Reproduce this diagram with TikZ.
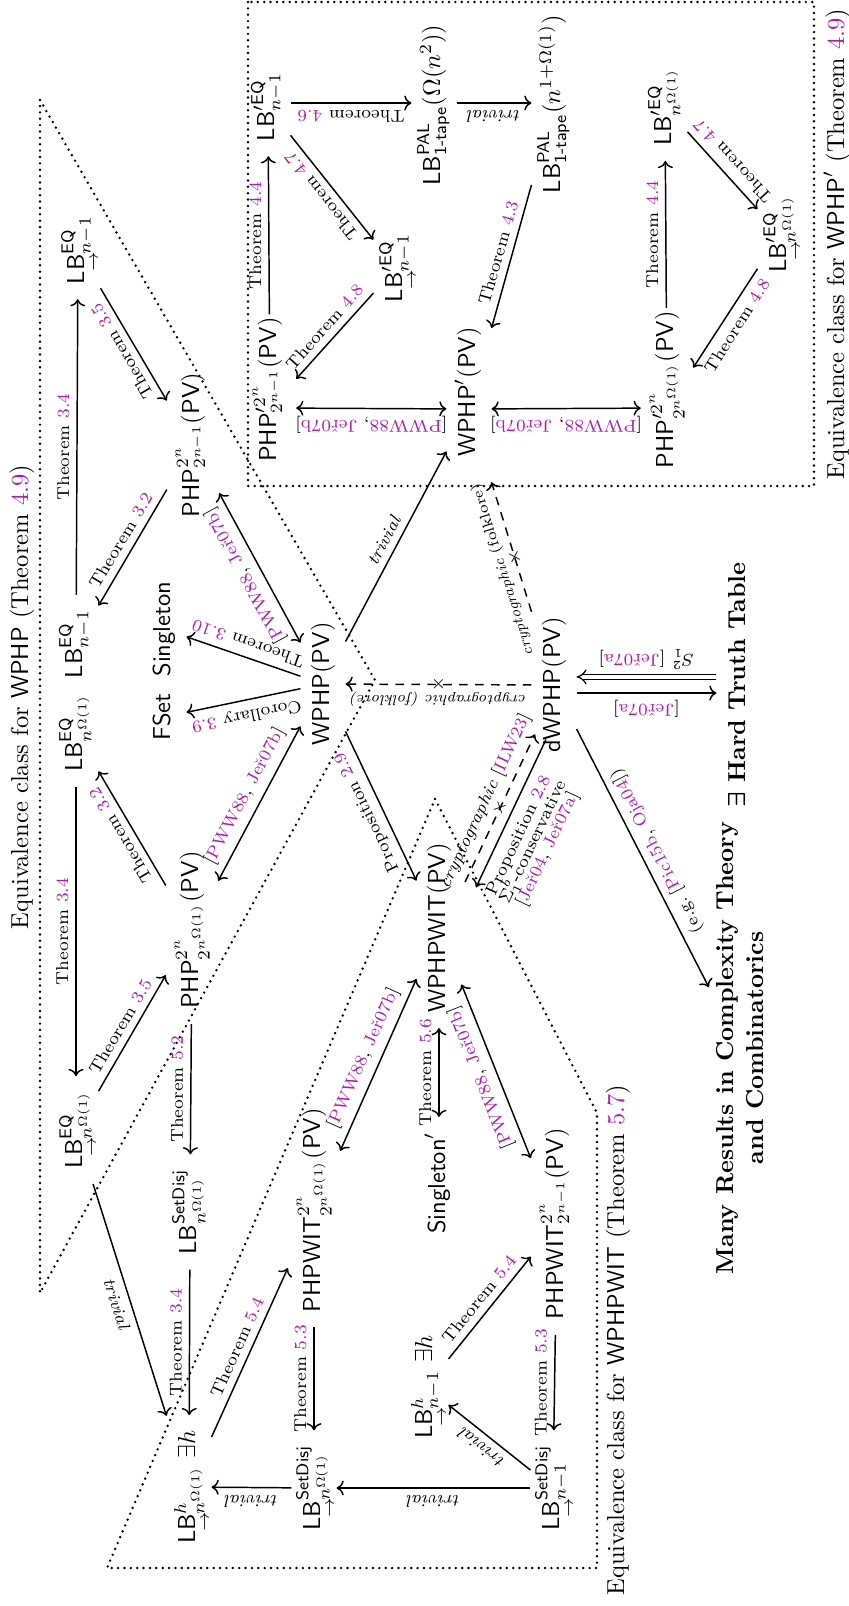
\documentclass[tikz,border=0pt]{standalone}
\usepackage{amsmath}
\usetikzlibrary{arrows.meta}
\definecolor{citec}{RGB}{170,30,170}
\newcommand{\cc}[1]{\textcolor{citec}{#1}}
\newcommand{\uLB}{\mathsf{LB}\smash{\llap{\raisebox{-1.3ex}{$\scriptstyle\rightarrow$}\kern-1pt}}}
\newcommand{\sPV}{(\mathsf{PV})}
\newcommand{\pww}{[\cc{PWW88}, \cc{Je\v{r}07b}]}
\begin{document}
\begin{tikzpicture}[x=0.408pt,y=-0.408pt,
 nd/.style={rotate=90,inner xsep=6pt,inner ysep=3pt,text height=8.5pt,text depth=3.5pt},
 ndp/.style={nd,text height=10pt,text depth=5pt},
 lab/.style={font=\scriptsize,inner sep=2.8pt},
 tlab/.style={font=\fontsize{6}{7}\selectfont,inner sep=2.8pt},
 ar/.style={line width=0.6pt,-{Computer Modern Rightarrow}},
 dar/.style={line width=0.6pt,{Computer Modern Rightarrow}-{Computer Modern Rightarrow}},
 dsh/.style={dash pattern=on 3.5pt off 3pt},
 dot/.style={line width=1.1pt,dash pattern=on 0pt off 2.6pt,line cap=round},
 ttl/.style={rotate=90,anchor=base,inner sep=0pt},
 crs/.style={font=\scriptsize,inner sep=0pt}
]
\useasboundingbox (0,0) rectangle (848,1606);

% regions
\draw[dot] (248,2) rectangle (814,486);
\draw[dot] (40,100) -- (375,680) -- (40,1293) -- cycle;
\draw[dot] (435,799) -- (597,1113) -- (597,1568) -- (107,1568) -- cycle;

% titles
\node[ttl] (t1) at (28,697) {Equivalence class for $\mathsf{WPHP}$ (Theorem \cc{4.9})};
\node[ttl] (t2) at (624,1340) {Equivalence class for $\mathsf{WPHPWIT}$ (Theorem \cc{5.7})};
\node[ttl] (t3) at (844,244) {Equivalence class for $\mathsf{WPHP}'$ (Theorem \cc{4.9})};

% WPHP' box nodes
\node[nd] (n1) at (268,107) {$\mathsf{LB}'^{\mathsf{EQ}}_{n-1}$};
\node[nd] (n2) at (434,105) {$\mathsf{LB}^{\mathsf{PAL}}_{\text{\sffamily 1-tape}}(\Omega(n^2))$};
\node[nd] (n3) at (554,104) {$\mathsf{LB}^{\mathsf{PAL}}_{\text{\sffamily 1-tape}}(n^{1+\Omega(1)})$};
\node[nd] (n4) at (396,268) {$\uLB'^{\mathsf{EQ}}_{n-1}$};
\node[ndp,inner xsep=1pt] (A1) at (270,408) {\hspace*{15pt}$\mathsf{PHP}'^{2^n}_{2^{n-1}}\sPV$};
\node[nd,inner xsep=1pt] (wp) at (469,409) {\hspace*{14pt}$\mathsf{WPHP}'\sPV$};
\node[ndp,inner xsep=1pt] (n5) at (667,408) {\hspace*{15pt}$\mathsf{PHP}'^{2^n}_{2^{n^{\Omega(1)}}}\sPV$};
\node[nd] (n6) at (665,107) {$\mathsf{LB}'^{\mathsf{EQ}}_{n^{\Omega(1)}}$};
\node[nd] (n7) at (780,234) {$\uLB'^{\mathsf{EQ}}_{n^{\Omega(1)}}$};

% WPHP nodes
\node[nd] (w1) at (78,250) {$\uLB^{\mathsf{EQ}}_{n-1}$};
\node[ndp] (w2) at (193,445) {$\mathsf{PHP}^{2^n}_{2^{n-1}}\sPV$};
\node[nd] (w3) at (76,644) {$\mathsf{LB}^{\mathsf{EQ}}_{n-1}$};
\node[nd] (w4) at (76,733) {$\mathsf{LB}^{\mathsf{EQ}}_{n^{\Omega(1)}}$};
\node[nd] (w5) at (164,629) {$\mathsf{Singleton}$};
\node[nd] (w6) at (164,717) {$\mathsf{FSet}$};
\node[nd] (w7) at (323,684) {$\mathsf{WPHP}\sPV$};
\node[ndp] (w8) at (192,930) {$\mathsf{PHP}^{2^n}_{2^{n^{\Omega(1)}}}\sPV$};
\node[nd] (w9) at (76,1130) {$\uLB^{\mathsf{EQ}}_{n^{\Omega(1)}}$};
\node[nd] (w10) at (190,1212) {$\mathsf{LB}^{\mathsf{SetDisj}}_{n^{\Omega(1)}}$};
\node[nd] (w11) at (189,1487) {$\uLB^{h}_{n^{\Omega(1)}}\ \exists h$};

% centre nodes
\node[nd] (d1) at (554,685) {$\mathsf{dWPHP}\sPV$};
\node[nd,font=\bfseries] (h1) at (739,685) {{\boldmath$\exists$} Hard Truth Table};
\node[rotate=90,font=\bfseries,align=center,inner sep=3pt] (m1) at (740,1048) {Many Results in Complexity Theory\\and Combinatorics};

% WPHPWIT nodes
\node[nd] (x1) at (439,928) {$\mathsf{WPHPWIT}\sPV$};
\node[ndp] (x2) at (314,1210) {$\mathsf{PHPWIT}^{2^n}_{2^{n^{\Omega(1)}}}\sPV$};
\node[ndp] (x3) at (557,1224) {$\mathsf{PHPWIT}^{2^n}_{2^{n-1}}\sPV$};
\node[nd] (x4) at (439,1183) {$\mathsf{Singleton}'$};
\node[nd] (x5) at (553,1488) {$\uLB^{\mathsf{SetDisj}}_{n-1}$};
\node[nd] (x6) at (314,1488) {$\uLB^{\mathsf{SetDisj}}_{n^{\Omega(1)}}$};
\node[nd] (x7) at (426,1387) {$\uLB^{h}_{n-1}\ \exists h$};

% WPHP' edges
\draw[ar] (A1) -- node[lab,rotate=90,anchor=south]{Theorem \cc{4.4}} (n1);
\draw[ar] (n1.south |- 0,103) -- node[lab,rotate=180,anchor=south]{Theorem \cc{4.6}} (n2.north |- 0,103);
\draw[ar] (n2.south |- 0,103) -- node[lab,rotate=180,anchor=south]{\textit{trivial}} (n3.north |- 0,103);
\draw[ar] (n3) -- node[lab,rotate=74,anchor=south]{Theorem \cc{4.3}} (wp);
\draw[ar] (n1) -- node[lab,rotate=128.5,anchor=south]{Theorem \cc{4.7}} (n4);
\draw[ar] (n4) -- node[lab,rotate=48.6,anchor=south]{Theorem \cc{4.8}} (A1);
\draw[dar] (A1) -- node[lab,rotate=180,anchor=south]{\pww} (wp);
\draw[dar] (wp) -- node[lab,rotate=180,anchor=south]{\pww} (n5);
\draw[ar] (n5) -- node[lab,rotate=90,anchor=south]{Theorem \cc{4.4}} (n6);
\draw[ar] (n6) -- node[lab,rotate=132.8,anchor=north]{Theorem \cc{4.7}} (n7);
\draw[ar] (n7) -- node[lab,rotate=57.7,anchor=north]{Theorem \cc{4.8}} (n5);

% WPHP edges
\draw[ar] (w3) -- node[lab,rotate=90,anchor=south]{Theorem \cc{3.4}} (w1);
\draw[ar] (w1) -- node[lab,rotate=120.3,anchor=south]{Theorem \cc{3.5}} (w2);
\draw[ar] (w2) -- node[lab,rotate=59,anchor=south]{Theorem \cc{3.2}} (w3);
\draw[dar] (w2) -- node[lab,rotate=118.5,anchor=south]{\pww} (w7);
\draw[ar] (w7) -- node[lab,rotate=160.9,anchor=north]{Theorem \cc{3.10}} (w5);
\draw[ar] (w7) -- node[lab,rotate=191.7,anchor=south]{Corollary \cc{3.9}} (w6);
\draw[ar] (w7) -- node[lab,rotate=62.4,anchor=south]{\textit{trivial}} (wp);
\draw[dar] (w7) -- node[lab,rotate=62.1,anchor=south]{\pww} (w8);
\draw[ar] (w8) -- node[lab,rotate=120.7,anchor=south]{Theorem \cc{3.2}} (w4);
\draw[ar] (w4) -- node[lab,rotate=90,anchor=south]{Theorem \cc{3.4}} (w9);
\draw[ar] (w9) -- node[lab,rotate=59.5,anchor=south]{Theorem \cc{3.5}} (w8);
\draw[ar] (w8) -- node[lab,rotate=90,anchor=south]{Theorem \cc{5.2}} (w10);
\draw[ar] (w9) -- node[lab,rotate=-72.3,anchor=north]{\textit{trivial}} (w11);
\draw[ar] (w10) -- node[lab,rotate=90,anchor=south]{Theorem \cc{3.4}} (w11);
\draw[ar] (w11) -- node[lab,rotate=65.9,anchor=south]{Theorem \cc{5.4}} (x2);
\draw[ar] (x6) -- node[lab,rotate=180,anchor=south]{\textit{trivial}} (w11);

% centre edges
\draw[ar] (w7) -- node[lab,rotate=115.4,anchor=south]{Proposition \cc{2.9}} (x1);
\draw[ar,dsh] (d1) -- node[tlab,rotate=180,anchor=south]{\textit{cryptographic (folklore)}} node[crs]{$\times$} (w7);
\draw[ar,dsh] (d1) -- node[tlab,rotate=107.4,anchor=south,pos=0.36]{\textit{cryptographic} (folklore)} node[crs,rotate=17.4,pos=0.42]{$\times$} (wp);
\draw[ar,dsh,transform canvas={shift={(3.5,1.7)}}] (x1) -- node[lab,rotate=64.7,anchor=south]{\textit{cryptographic} [\cc{ILW23}]} node[crs,rotate=-25.3]{$\times$} (d1);
\draw[ar,transform canvas={shift={(14.5,6.9)}}] (d1) -- node[lab,rotate=64.7,anchor=north,align=center,pos=0.6,inner sep=3.5pt]{Proposition \cc{2.8}\\[-1.5pt]$\Sigma^b_1$-conservative\\[-1.5pt][\cc{Je\v{r}04}, \cc{Je\v{r}07a}]} (x1);
\draw[line width=0.5pt,double,double distance=1.6pt,-{Implies},transform canvas={yshift=3.3pt}] (h1) -- node[lab,rotate=180,anchor=north]{$S^2_1$ [\cc{Je\v{r}07a}]} (d1);
\draw[ar,transform canvas={yshift=-3.3pt}] (d1) -- node[lab,rotate=180,anchor=south]{[\cc{Je\v{r}07a}]} (h1);
\draw[ar] (d1) -- node[lab,rotate=117.1,anchor=north]{(e.g.\ [\cc{Pic15b}, \cc{Oja04}])} (m1);

% WPHPWIT edges
\draw[dar] (x1) -- node[lab,rotate=90,anchor=south]{Theorem \cc{5.6}} (x4);
\draw[dar] (x1) -- node[lab,rotate=65.9,anchor=south]{\pww} (x2);
\draw[dar] (x1) -- node[lab,rotate=111.7,anchor=south]{\pww} (x3);
\draw[ar] (x2) -- node[lab,rotate=90,anchor=south]{Theorem \cc{5.3}} (x6);
\draw[ar] (x3) -- node[lab,rotate=90,anchor=south]{Theorem \cc{5.3}} (x5);
\draw[ar] (x7) -- node[lab,rotate=51.2,anchor=south]{Theorem \cc{5.4}} (x3);
\draw[ar] (x5) -- node[lab,rotate=141.5,anchor=south]{\textit{trivial}} (x7);
\draw[ar] (x5) -- node[lab,rotate=180,anchor=south]{\textit{trivial}} (x6);
\end{tikzpicture}
\end{document}
